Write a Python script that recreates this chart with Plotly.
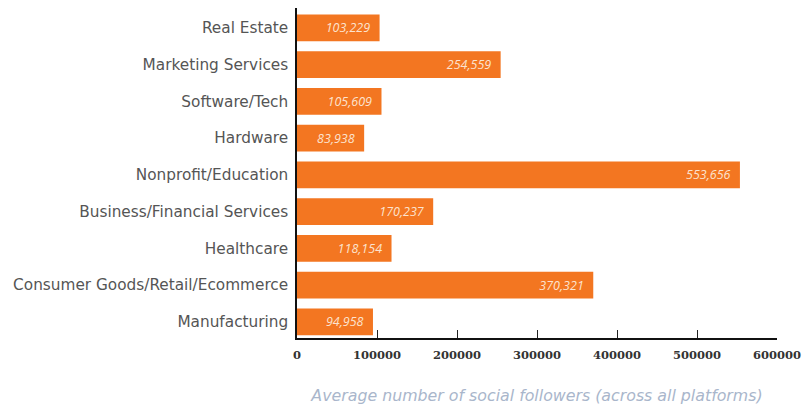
import plotly.graph_objects as go

# Sectors listed bottom-to-top as drawn on the category axis
sectors = [
    "Manufacturing",
    "Consumer Goods/Retail/Ecommerce",
    "Healthcare",
    "Business/Financial Services",
    "Nonprofit/Education",
    "Hardware",
    "Software/Tech",
    "Marketing Services",
    "Real Estate",
]
followers = [94958, 370321, 118154, 170237, 553656, 83938, 105609, 254559, 103229]
x_ticks = [0, 100000, 200000, 300000, 400000, 500000, 600000]

bar_color = "#F37621"
pad = "\u00a0\u00a0"

fig = go.Figure(
    go.Bar(
        x=followers,
        y=sectors,
        orientation="h",
        marker=dict(color=bar_color, line=dict(width=0)),
        text=[f"{v:,}{pad}" for v in followers],
        textposition="inside",
        insidetextanchor="end",
        textfont=dict(family="Open Sans", size=12.5, color="#FCE3CF", style="italic"),
        cliponaxis=False,
    )
)

fig.update_layout(
    width=808,
    height=409,
    margin=dict(l=297, r=31, t=8, b=71),
    paper_bgcolor="white",
    plot_bgcolor="white",
    bargap=0.27,
    showlegend=False,
    uniformtext=dict(mode=False),
)

fig.update_xaxes(
    range=[0, 600000],
    tickvals=x_ticks,
    ticktext=[str(t) for t in x_ticks],
    ticks="inside",
    ticklen=8,
    tickcolor="#222",
    tickwidth=1,
    showline=True,
    linecolor="#111",
    linewidth=1.5,
    showgrid=False,
    zeroline=False,
    ticklabelstandoff=5,
    tickfont=dict(family="DejaVu Serif", size=11.5, color="#333", weight="bold"),
    title=dict(
        text="Average number of social followers (across all platforms)",
        font=dict(family="DejaVu Sans", size=15.8, color="#A9B6CB", style="italic"),
        standoff=29,
    ),
)

fig.update_yaxes(
    categoryorder="array",
    categoryarray=sectors,
    range=[-0.44, 8.54],
    showline=True,
    linecolor="#111",
    linewidth=1.5,
    showgrid=False,
    ticks="",
    ticklabelstandoff=4,
    tickfont=dict(family="DejaVu Sans", size=15.3, color="#555"),
)

fig.write_html("out.html")
